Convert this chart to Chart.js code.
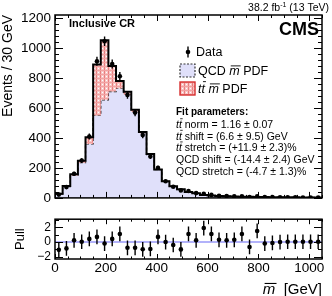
<!DOCTYPE html>
<html>
<head>
<meta charset="utf-8">
<script src="https://cdn.jsdelivr.net/npm/chart.js@4.4.1/dist/chart.umd.min.js"></script>
<style>
  html, body { margin: 0; padding: 0; background: #fff; }
  #wrap { position: relative; width: 332px; height: 296px; overflow: hidden; }
  #main { position: absolute; left: 0; top: 0; }
  #pull { position: absolute; left: 0; top: 208px; }
</style>
</head>
<body>
<div id="wrap">
  <canvas id="main" width="332" height="210"></canvas>
  <canvas id="pull" width="332" height="88"></canvas>
</div>
<script>
// bin centres (GeV), 30 GeV wide bins
const massBins = [15, 45, 75, 105, 135, 165, 195, 225, 255, 285, 315, 345, 375, 405, 435, 465, 495, 525,
  555, 585, 615, 645, 675, 705, 735, 765, 795, 825, 855, 885, 915, 945, 975, 1005, 1035];
const dataCounts = [22, 72, 161, 249, 409, 911, 1045, 893, 811, 687, 569, 419, 276, 200, 111, 74, 50, 46,
  32, 28, 20, 14, 12, 10, 11, 5, 10, 5, 5, 4, 4, 4, 3, 3, 3];
const qcdPdf = [26, 76, 150, 235, 360, 550, 654, 709, 730, 690, 575, 432, 288, 188, 110, 77, 56, 38.5,
  30.5, 19.8, 15.8, 12.9, 10.9, 8.9, 7.9, 6.9, 5.9, 5.4, 4.9, 4.4, 3.95, 3.55, 3.15, 2.95, 2.75];
const ttbarPdf = [2, 4, 8, 13, 45, 340, 398, 171, 50, 18, 13, 8, 4, 2, 1, 1, 1, 0.5,
  0.5, 0.2, 0.2, 0.1, 0.1, 0.1, 0.1, 0.1, 0.1, 0.1, 0.1, 0.1, 0.05, 0.05, 0.05, 0.05, 0.05];
const pullValues = [-1.06, -0.86, 0.24, 0.04, 0.43, 0.7, -0.2, 0.43, 1.1, -0.78, -0.78, -0.98, -0.94, 0.7, 0,
  -0.4, -1.0, 1.1, 0.24, 1.9, 1.1, 0.31, 0.24, 0.31, 1.1, -0.67, 1.5, -0.2, -0.12, 0, 0.04, 0.04, 0.04, 0.04, 0.04];
const massTicks = [0, 200, 400, 600, 800, 1000];
const eventTicks = [0, 200, 400, 600, 800, 1000, 1200];
const pullTicks = [-2, 0, 2];

const binWidth = 30;
const FONT = '"Liberation Sans", Arial, Helvetica, sans-serif';
const totalPdf = qcdPdf.map((q, i) => q + ttbarPdf[i]);

// histogram outline as stepped line through the left bin edges
function stepPoints(vals) {
  const pts = [{ x: massBins[0] - binWidth / 2, y: 0 }];
  vals.forEach((v, i) => pts.push({ x: massBins[i] - binWidth / 2, y: v }));
  pts.push({ x: massBins[massBins.length - 1] + binWidth / 2, y: vals[vals.length - 1] });
  return pts;
}

function makeHatch(ctx) {
  const c = document.createElement('canvas');
  c.width = 4; c.height = 4;
  const g = c.getContext('2d');
  g.fillStyle = '#f8c4c4'; g.fillRect(0, 0, 4, 4);
  g.fillStyle = '#e98080'; g.fillRect(0, 0, 1, 4);
  g.fillStyle = '#f2a2a2'; g.fillRect(0, 2, 4, 1);
  g.fillStyle = '#ffffff'; g.fillRect(2, 0, 1, 1);
  return ctx.createPattern(c, 'repeat');
}

// ROOT style frame with inward ticks on all sides
const frameTicks = {
  id: 'frameTicks',
  afterDraw(chart, args, o) {
    const { ctx, chartArea: a, scales: { x, y } } = chart;
    const isMajor = (v, m) => Math.abs(v / m - Math.round(v / m)) < 1e-6;
    ctx.save();
    ctx.strokeStyle = '#000';
    ctx.lineWidth = 1;
    ctx.beginPath();
    for (let v = 0; v <= x.max + 1e-6; v += o.xMinor) {
      const px = Math.round(x.getPixelForValue(v)) + 0.5;
      const len = isMajor(v, o.xMajor) ? o.xLen : o.xLen / 2;
      ctx.moveTo(px, a.bottom); ctx.lineTo(px, a.bottom - len);
      ctx.moveTo(px, a.top); ctx.lineTo(px, a.top + len);
    }
    for (let v = Math.ceil(y.min / o.yMinor) * o.yMinor; v <= y.max + 1e-6; v += o.yMinor) {
      const py = Math.round(y.getPixelForValue(v)) + 0.5;
      const len = isMajor(v, o.yMajor) ? o.yLen : o.yLen / 2;
      ctx.moveTo(a.left, py); ctx.lineTo(a.left + len, py);
      ctx.moveTo(a.right, py); ctx.lineTo(a.right - len, py);
    }
    ctx.stroke();
    ctx.lineWidth = 1.5;
    ctx.strokeRect(a.left, a.top, a.right - a.left, a.bottom - a.top);
    ctx.restore();
  }
};

// vertical error bars on the data points: 'sqrt' = Poisson, 'unit' = +-1
const errBars = {
  id: 'errBars',
  afterDatasetsDraw(chart, args, o) {
    const { ctx, scales: { y } } = chart;
    const meta = chart.getDatasetMeta(0);
    const ds = chart.data.datasets[0].data;
    ctx.save();
    ctx.strokeStyle = '#000';
    ctx.lineWidth = 1.4;
    ctx.beginPath();
    meta.data.forEach((pt, i) => {
      const v = ds[i].y;
      const e = o.mode === 'sqrt' ? Math.sqrt(v) : 1;
      ctx.moveTo(pt.x, y.getPixelForValue(v - e));
      ctx.lineTo(pt.x, y.getPixelForValue(v + e));
    });
    ctx.stroke();
    ctx.restore();
  }
};

// text with italic / overlined pieces
function drawRich(ctx, x, yc, size, parts, align) {
  const base = yc + size * 0.35;
  let w = 0;
  parts.forEach(p => { ctx.font = (p.f || '') + ' ' + (p.s || size) + 'px ' + FONT; w += ctx.measureText(p.t).width; });
  let cx = align === 'right' ? x - w : x;
  ctx.textAlign = 'left';
  ctx.textBaseline = 'alphabetic';
  parts.forEach(p => {
    const s = p.s || size;
    ctx.font = (p.f || '') + ' ' + s + 'px ' + FONT;
    const tw = ctx.measureText(p.t).width;
    ctx.fillText(p.t, cx, base - (p.up || 0));
    if (p.bar) {
      const h = base - s * p.bar;
      ctx.beginPath();
      ctx.lineWidth = Math.max(0.8, s / 14);
      ctx.moveTo(cx + s * 0.12, h);
      ctx.lineTo(cx + tw + s * 0.08, h);
      ctx.stroke();
    }
    cx += tw;
  });
}

const mainCtx = document.getElementById('main').getContext('2d');
const hatch = makeHatch(mainCtx);
const qcdFill = '#e0e0fa';

const annotations = {
  id: 'annotations',
  afterDraw(chart) {
    const ctx = chart.ctx;
    ctx.save();
    ctx.fillStyle = '#000';
    ctx.strokeStyle = '#000';
    drawRich(ctx, 69, 23.5, 11, [{ t: 'Inclusive CR', f: 'bold' }]);
    drawRich(ctx, 319, 29, 18, [{ t: 'CMS', f: 'bold' }], 'right');
    drawRich(ctx, 329, 7, 10.5, [{ t: '38.2 fb' }, { t: '-1', s: 7, up: 4 }, { t: ' (13 TeV)' }], 'right');

    // legend
    ctx.lineWidth = 1.4;
    ctx.beginPath(); ctx.moveTo(188, 46.5); ctx.lineTo(188, 57.5); ctx.stroke();
    ctx.beginPath(); ctx.arc(188, 52, 2.3, 0, Math.PI * 2); ctx.fill();
    drawRich(ctx, 196, 52, 12.5, [{ t: 'Data' }]);

    ctx.fillStyle = qcdFill; ctx.fillRect(180, 64, 15, 13);
    ctx.setLineDash([2, 1.5]); ctx.strokeStyle = '#333'; ctx.lineWidth = 1.2;
    ctx.strokeRect(180, 64, 15, 13); ctx.setLineDash([]);
    ctx.fillStyle = hatch; ctx.fillRect(180, 82, 15, 13);
    ctx.strokeStyle = '#d83030'; ctx.lineWidth = 1.4; ctx.strokeRect(180, 82, 15, 13);
    ctx.fillStyle = '#000'; ctx.strokeStyle = '#000';
    drawRich(ctx, 198, 70.5, 12.5, [{ t: 'QCD ' }, { t: 'm', f: 'italic', bar: 0.72 }, { t: ' PDF' }]);
    drawRich(ctx, 198, 88.5, 12.5, [{ t: 't', f: 'italic' }, { t: 't', f: 'italic', bar: 0.9 }, { t: ' ' },
      { t: 'm', f: 'italic', bar: 0.72 }, { t: ' PDF' }]);

    // fit results
    drawRich(ctx, 176, 111.5, 10, [{ t: 'Fit parameters:', f: 'bold' }]);
    const tt = [{ t: 't', f: 'italic' }, { t: 't', f: 'italic', bar: 0.9 }];
    const lines = [
      tt.concat([{ t: ' norm = 1.16 \u00b1 0.07' }]),
      tt.concat([{ t: ' shift = (6.6 \u00b1 9.5) GeV' }]),
      tt.concat([{ t: ' stretch = (+11.9 \u00b1 2.3)%' }]),
      [{ t: 'QCD shift = (-14.4 \u00b1 2.4) GeV' }],
      [{ t: 'QCD stretch = (-4.7 \u00b1 1.3)%' }]
    ];
    lines.forEach((l, i) => drawRich(ctx, 176, 124.5 + 11.6 * i, 10.5, l));
    ctx.restore();
  }
};

new Chart(mainCtx, {
  type: 'line',
  data: {
    datasets: [
      {
        label: 'Data',
        data: massBins.map((m, i) => ({ x: m, y: dataCounts[i] })),
        showLine: false,
        pointRadius: 2.3,
        pointBackgroundColor: '#000',
        pointBorderWidth: 0
      },
      {
        label: 'ttbar',
        data: stepPoints(totalPdf),
        stepped: true,
        borderColor: '#000',
        borderWidth: 2,
        pointRadius: 0,
        fill: 2,
        backgroundColor: hatch
      },
      {
        label: 'QCD',
        data: stepPoints(qcdPdf),
        stepped: true,
        borderColor: '#222',
        borderWidth: 1.3,
        borderDash: [3, 2],
        pointRadius: 0,
        fill: 'origin',
        backgroundColor: qcdFill
      }
    ]
  },
  options: {
    responsive: false,
    animation: false,
    layout: { padding: { top: 15, right: 10, left: 0, bottom: 0 } },
    plugins: {
      legend: { display: false },
      tooltip: { enabled: false },
      errBars: { mode: 'sqrt' },
      frameTicks: { xMinor: 50, xMajor: 200, xLen: 6, yMinor: 40, yMajor: 200, yLen: 8 }
    },
    scales: {
      x: {
        type: 'linear', min: 0, max: 1050,
        grid: { display: false }, border: { display: false },
        ticks: { display: false },
        afterFit: s => { s.height = 8; }
      },
      y: {
        min: 0, max: 1220,
        grid: { display: false, drawTicks: false }, border: { display: false },
        afterBuildTicks: s => { s.ticks = eventTicks.map(v => ({ value: v })); },
        ticks: { color: '#000', padding: 4, font: { family: FONT, size: 13.5 }, callback: v => String(v) },
        title: { display: true, text: 'Events / 30 GeV', align: 'end', color: '#000', padding: 0,
          font: { family: FONT, size: 14 } },
        afterFit: s => { s.width = 55; }
      }
    }
  },
  plugins: [frameTicks, errBars, annotations]
});

const xTitle = {
  id: 'xTitle',
  afterDraw(chart) {
    const ctx = chart.ctx;
    ctx.save();
    ctx.fillStyle = '#000'; ctx.strokeStyle = '#000';
    drawRich(ctx, 322, 81, 15, [{ t: 'm', f: 'italic', bar: 0.72 }, { t: '  [GeV]' }], 'right');
    ctx.restore();
  }
};

new Chart(document.getElementById('pull').getContext('2d'), {
  type: 'line',
  data: {
    datasets: [
      {
        label: 'Pull',
        data: massBins.map((m, i) => ({ x: m, y: pullValues[i] })),
        showLine: false,
        pointRadius: 2.3,
        pointBackgroundColor: '#000',
        pointBorderWidth: 0
      },
      {
        label: 'zero',
        data: [{ x: 0, y: 0 }, { x: 1050, y: 0 }],
        borderColor: '#9898f8',
        borderWidth: 1.5,
        pointRadius: 0
      }
    ]
  },
  options: {
    responsive: false,
    animation: false,
    layout: { padding: { top: 5, right: 10, left: 0, bottom: 0 } },
    plugins: {
      legend: { display: false },
      tooltip: { enabled: false },
      errBars: { mode: 'unit' },
      frameTicks: { xMinor: 50, xMajor: 200, xLen: 5, yMinor: 1, yMajor: 2, yLen: 8 }
    },
    scales: {
      x: {
        type: 'linear', min: 0, max: 1050,
        grid: { display: false, drawTicks: false }, border: { display: false },
        afterBuildTicks: s => { s.ticks = massTicks.map(v => ({ value: v })); },
        ticks: { color: '#000', padding: 1, maxRotation: 0, font: { family: FONT, size: 13.5 },
          callback: v => String(v) },
        afterFit: s => { s.height = 37; }
      },
      y: {
        min: -2.3, max: 3.1,
        grid: { display: false, drawTicks: false }, border: { display: false },
        afterBuildTicks: s => { s.ticks = pullTicks.map(v => ({ value: v })); },
        ticks: { color: '#000', padding: 4, font: { family: FONT, size: 12 },
          callback: v => (v < 0 ? '\u2212' + Math.abs(v) : String(v)) },
        title: { display: true, text: 'Pull', color: '#000', padding: { top: 13, bottom: 0 },
          font: { family: FONT, size: 13 } },
        afterFit: s => { s.width = 55; }
      }
    }
  },
  plugins: [frameTicks, errBars, xTitle]
});
</script>
</body>
</html>
